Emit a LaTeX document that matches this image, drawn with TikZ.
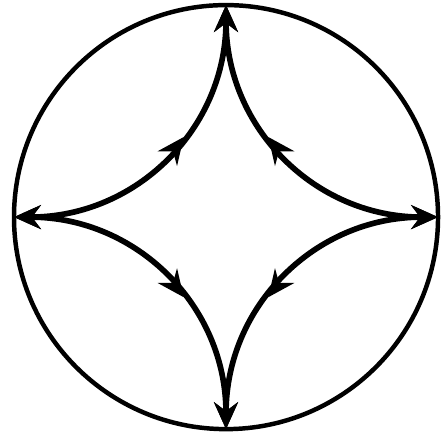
\documentclass[tikz,border=0pt]{standalone}
\usetikzlibrary{arrows.meta, decorations.markings}

\begin{document}
\begin{tikzpicture}[>={Stealth[length=18pt, width=16pt, inset=6pt]},
    flowarc/.style={line width=3.8pt, <->, postaction={decorate},
        decoration={markings, mark=at position 0.58 with {\arrow{>}}}}]
    \useasboundingbox (-5.33,-5.16) rectangle (5.07,5.12);

    % 1. Vòng tròn ngoài
    \draw[line width=3pt] (0,0) circle (5);

    % Các điểm lùi (cusp) trên vòng tròn
    \coordinate (T) at (0,5);
    \coordinate (B) at (0,-5);
    \coordinate (L) at (-5,0);
    \coordinate (R) at (5,0);

    % 2. Bốn cung lõm có mũi tên ở hai đầu và ở giữa
    \foreach \h/\hx/\v/\vy in {L/2.9/T/-2.9, R/-2.9/T/-2.9, L/2.9/B/2.9, R/-2.9/B/2.9} {
        \draw[flowarc] (\h) .. controls +(\hx,0) and +(0,\vy) .. (\v);
    }

\end{tikzpicture}
\end{document}
